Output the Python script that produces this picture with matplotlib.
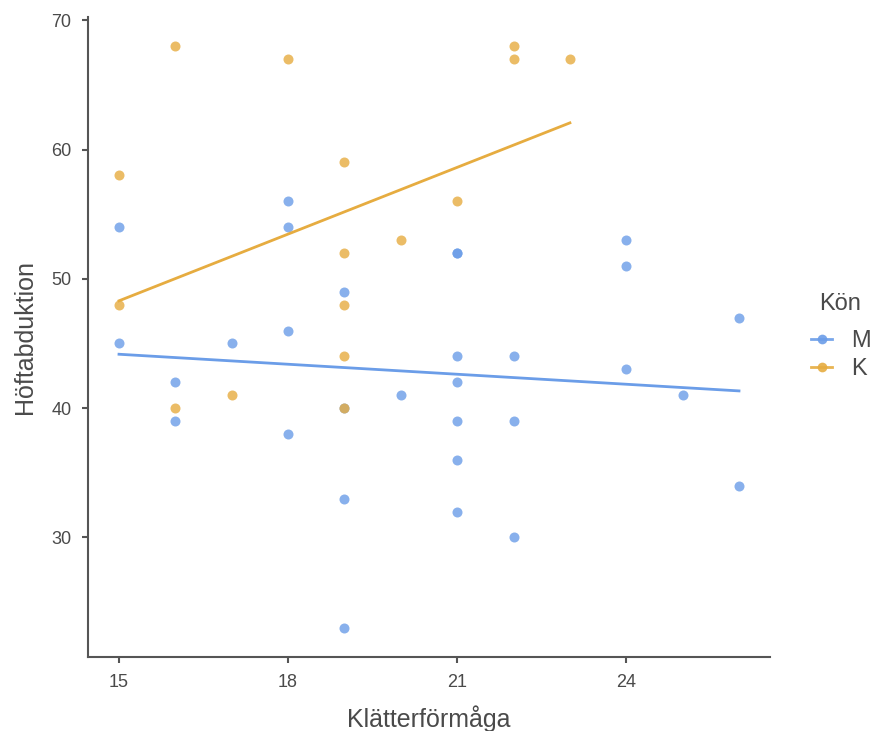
import numpy as np
import matplotlib.pyplot as plt
from matplotlib.lines import Line2D

plt.rcParams['font.family'] = ['Liberation Sans', 'DejaVu Sans']

# Klätterförmåga (x) and Höftabduktion (y) per group
m_x = [15, 15, 16, 16, 17, 18, 18, 18, 18, 19, 19, 19, 19, 20,
       21, 21, 21, 21, 21, 21, 21, 22, 22, 22, 24, 24, 24, 25, 26, 26]
m_y = [54, 45, 42, 39, 45, 56, 54, 46, 38, 49, 40, 33, 23, 41,
       52, 52, 44, 42, 39, 36, 32, 44, 39, 30, 53, 51, 43, 41, 47, 34]
k_x = [15, 15, 16, 16, 17, 18, 19, 19, 19, 19, 19, 20, 21, 22, 22, 23]
k_y = [58, 48, 68, 40, 41, 67, 59, 52, 48, 44, 40, 53, 56, 68, 67, 67]

groups = ['M', 'K']
colors = ['#6B9DE8', '#E6AC40']
x_ticks = [15, 18, 21, 24]
y_ticks = [30, 40, 50, 60, 70]

fig = plt.figure(figsize=(8.71, 7.31), dpi=100)
ax = fig.add_axes([88 / 871, 1 - 657 / 731, (770 - 88) / 871, (657 - 17) / 731])

for (xs, ys), col in zip([(m_x, m_y), (k_x, k_y)], colors):
    xs = np.array(xs)
    ys = np.array(ys)
    ax.scatter(xs, ys, s=52, color=col, alpha=0.8, linewidths=0, zorder=2)
    # linear fit over the group's own x range
    b, a = np.polyfit(xs, ys, 1)
    xl = np.array([xs.min(), xs.max()])
    ax.plot(xl, a + b * xl, color=col, lw=2, zorder=3)

ax.set_xlim(14.45, 26.55)
ax.set_ylim(20.75, 70.25)
ax.set_xticks(x_ticks)
ax.set_yticks(y_ticks)

for side in ['top', 'right']:
    ax.spines[side].set_visible(False)
for side in ['left', 'bottom']:
    ax.spines[side].set_color('#555555')
    ax.spines[side].set_linewidth(1.5)
ax.tick_params(colors='#555555', labelcolor='#4a4a4a', labelsize=13,
               length=4, width=1.5)
ax.tick_params(axis='x', pad=8.5)
ax.tick_params(axis='y', pad=8)

ax.set_xlabel('Klätterförmåga', fontsize=18, color='#4a4a4a', labelpad=10)
ax.set_ylabel('Höftabduktion', fontsize=18, color='#4a4a4a', labelpad=10)

# legend title drawn on its own so the gap to the keys matches
fig.text(819 / 871, 1 - 304 / 731, 'Kön', fontsize=17, color='#4a4a4a',
         ha='left', va='center')
handles = [Line2D([0], [0], color=c, lw=2, marker='o', markersize=7,
                  markeredgewidth=0, alpha=0.9) for c in colors]
leg = fig.legend(handles, groups, loc='upper left',
                 bbox_to_anchor=(811 / 871, 1 - 330 / 731), frameon=False,
                 borderpad=0, borderaxespad=0,
                 fontsize=17, handlelength=0.9,
                 handletextpad=0.8, labelspacing=0.25)
for t in leg.get_texts():
    t.set_color('#4a4a4a')

fig.savefig('out.png', dpi=100)
